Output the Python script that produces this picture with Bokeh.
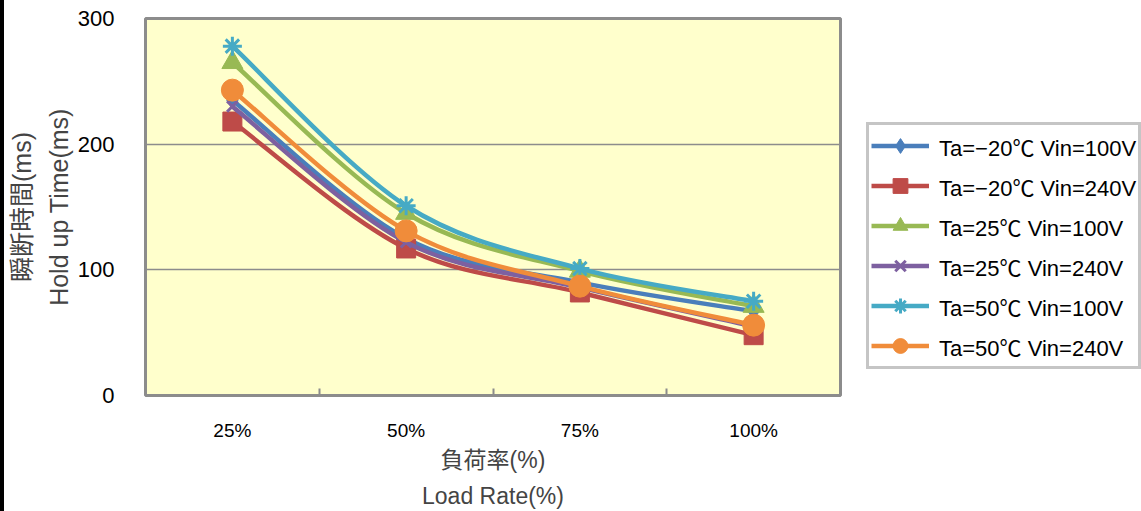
from bokeh.plotting import figure
from bokeh.layouts import row
from bokeh.models import FixedTicker, Legend, LegendItem, Range1d, ColumnDataSource
from bokeh.embed import file_html
from bokeh.resources import INLINE

categories = ["25%", "50%", "75%", "100%"]
series_names = ["Ta=−20℃ Vin=100V", "Ta=−20℃ Vin=240V", "Ta=25℃ Vin=100V",
                "Ta=25℃ Vin=240V", "Ta=50℃ Vin=100V", "Ta=50℃ Vin=240V"]
s_m20_100 = [235, 125, 90, 67]
s_m20_240 = [218, 117, 82, 48]
s_25_100 = [265, 145, 99, 71]
s_25_240 = [230, 122, 86, 55]
s_50_100 = [278, 151, 101, 75]
s_50_240 = [243, 131, 87, 56]
series_values = [s_m20_100, s_m20_240, s_25_100, s_25_240, s_50_100, s_50_240]
y_ticks = [0, 100, 200, 300]

colors = ["#4A7EBB", "#BE4B48", "#98B954", "#7D60A0", "#46AAC5", "#F08C3A"]
markers = ["diamond", "square", "triangle", "x", "asterisk", "circle"]
msizes = [17, 19, 21, 15, 19, 22]

FONT = "Liberation Sans, Noto Sans CJK JP"
NAN = float("nan")

W, H = 1141, 511
STRIP = 4          # dark strip at the far left of the picture
W1 = 843 - STRIP   # main chart (frame from x=145 to x=840)
W2 = W - 843       # legend panel
TOP, BOTTOM = 18, H - 398

p = figure(width=W1, height=H, output_backend="svg", toolbar_location=None,
           x_range=Range1d(0.5, 4.5), y_range=Range1d(0, 300),
           min_border_left=145 - STRIP, min_border_right=3,
           min_border_top=TOP, min_border_bottom=BOTTOM)
p.background_fill_color = "#FFFFCC"
p.border_fill_color = "white"
p.outline_line_color = "#8C8C8C"
p.outline_line_width = 3

xs = list(range(1, len(categories) + 1))

# axes
p.xaxis.ticker = FixedTicker(ticks=xs, minor_ticks=[1.5, 2.5, 3.5])
p.xaxis.major_label_overrides = {x: c for x, c in zip(xs, categories)}
p.xaxis.major_tick_in = 0
p.xaxis.major_tick_out = 0
p.xaxis.minor_tick_in = 7
p.xaxis.minor_tick_out = 0
p.xaxis.minor_tick_line_color = "#8C8C8C"
p.xaxis.minor_tick_line_width = 2
p.xaxis.axis_line_color = None
p.xaxis.major_label_standoff = 24
p.xaxis.major_label_text_font = FONT
p.xaxis.major_label_text_font_size = "19px"
p.xaxis.major_label_text_color = "black"
p.xaxis.axis_label = "負荷率(%)\nLoad Rate(%)"
p.xaxis.axis_label_text_font = FONT
p.xaxis.axis_label_text_font_size = "23px"
p.xaxis.axis_label_text_font_style = "normal"
p.xaxis.axis_label_standoff = 3
p.xaxis.axis_label_text_line_height = 1.4

p.yaxis.ticker = FixedTicker(ticks=y_ticks)
p.yaxis.major_tick_in = 0
p.yaxis.major_tick_out = 0
p.yaxis.minor_tick_in = 0
p.yaxis.minor_tick_out = 0
p.yaxis.axis_line_color = None
p.yaxis.major_label_standoff = 31
p.yaxis.major_label_text_font = FONT
p.yaxis.major_label_text_font_size = "22px"
p.yaxis.major_label_text_color = "black"
p.yaxis.axis_label = "瞬断時間(ms)\nHold up Time(ms)"
p.yaxis.axis_label_text_font = FONT
p.yaxis.axis_label_text_font_size = "25px"
p.yaxis.axis_label_text_font_style = "normal"
p.yaxis.axis_label_standoff = 2
p.yaxis.axis_label_text_line_height = 1.3

p.xgrid.grid_line_color = None
p.ygrid.ticker = FixedTicker(ticks=y_ticks)
p.ygrid.grid_line_color = "#8C8C8C"
p.ygrid.grid_line_width = 1.5


def smooth_segments(xv, yv):
    n = len(xv)
    out = {k: [] for k in ["x0", "y0", "x1", "y1", "cx0", "cy0", "cx1", "cy1"]}
    for i in range(n - 1):
        a = i - 1 if i > 0 else i
        d = i + 2 if i + 2 < n else i + 1
        out["x0"].append(xv[i]); out["y0"].append(yv[i])
        out["x1"].append(xv[i + 1]); out["y1"].append(yv[i + 1])
        out["cx0"].append(xv[i] + (xv[i + 1] - xv[a]) / 6)
        out["cy0"].append(yv[i] + (yv[i + 1] - yv[a]) / 6)
        out["cx1"].append(xv[i + 1] - (xv[d] - xv[i]) / 6)
        out["cy1"].append(yv[i + 1] - (yv[d] - yv[i]) / 6)
    return out


# legend panel (separate figure holding only the legend)
p2 = figure(width=W2, height=H, output_backend="svg", toolbar_location=None,
            x_range=Range1d(0, 1), y_range=Range1d(0, 1),
            min_border_left=0, min_border_right=0,
            min_border_top=TOP, min_border_bottom=BOTTOM)
p2.axis.visible = False
p2.grid.grid_line_color = None
p2.outline_line_color = None
p2.background_fill_color = "white"
p2.border_fill_color = "white"

items = []
for name, vals, col, mk, ms in zip(series_names, series_values, colors, markers, msizes):
    seg = ColumnDataSource(smooth_segments(xs, vals))
    p.bezier(x0="x0", y0="y0", x1="x1", y1="y1", cx0="cx0", cy0="cy0",
             cx1="cx1", cy1="cy1", source=seg, line_color=col, line_width=4.5)
    lw = 3 if mk in ("x", "asterisk") else 1
    p.scatter(x=xs, y=vals, marker=mk, size=ms, fill_color=col,
              line_color=col, line_width=lw)
    leg_line = p2.line(x=[NAN], y=[NAN], line_color=col, line_width=4.5)
    leg_mark = p2.scatter(x=[NAN], y=[NAN], marker=mk, fill_color=col,
                          line_color=col, line_width=lw)
    items.append(LegendItem(label=name, renderers=[leg_line, leg_mark]))

legend = Legend(items=items, location=(866 - 843, 398 - 372), orientation="vertical")
legend.border_line_color = "#8C8C8C"
legend.border_line_width = 3
legend.background_fill_color = "white"
legend.label_text_font = FONT
legend.label_text_font_size = "22px"
legend.label_text_color = "black"
legend.glyph_width = 58
legend.glyph_height = 37
legend.label_height = 37
legend.spacing = 3
legend.padding = 2
legend.margin = 0
legend.label_standoff = 10
p2.add_layout(legend, "center")

layout = row(p, p2, styles={"border-left": f"{STRIP}px solid black"})
open("out.html", "w").write(file_html(layout, INLINE))
